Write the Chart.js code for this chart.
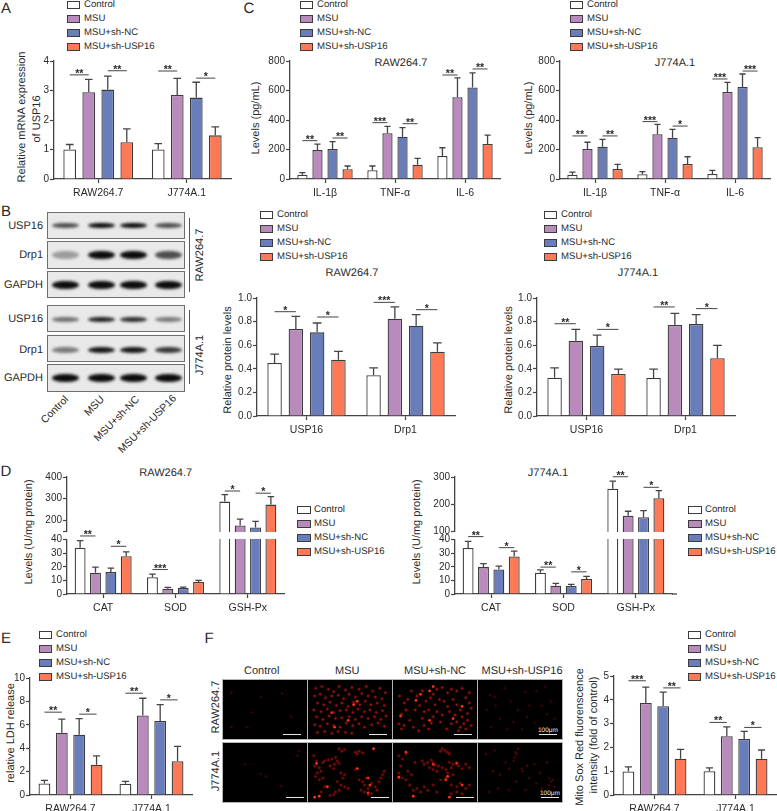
<!DOCTYPE html>
<html>
<head>
<meta charset="utf-8">
<title>USP16 figure</title>
<script src="https://cdn.jsdelivr.net/npm/chart.js@4/dist/chart.umd.min.js"></script>
<style>
  html, body { margin: 0; background: #fff; }
  #fig { position: relative; width: 777px; height: 811px; overflow: hidden; font-family: "Liberation Sans", Arial, sans-serif; color: #2a2a2a; }
  /* canvases stay above the html text, text over a canvas renders heavier */
  #fig canvas { position: absolute; z-index: 1; }
  .t { position: absolute; white-space: nowrap; line-height: 1; text-rendering: geometricPrecision; }
  .sw { position: absolute; box-sizing: border-box; border: 1.3px solid #3c3c3c; }
  .blot { position: absolute; box-sizing: border-box; border: 1.2px solid #6e6e6e; background: #e9e9e9; overflow: hidden; }
  .band { position: absolute; background: #0c0c0c; border-radius: 45% / 50%; filter: blur(1.4px); }
  .line { position: absolute; }
</style>
</head>
<body>
<div id="fig"></div>
<script>
const groups = ['Control', 'MSU', 'MSU+sh-NC', 'MSU+sh-USP16'];
const colors = ['#ffffff', '#b98bbd', '#6a7dbb', '#ff7957'];
const cells = ['RAW264.7', 'J774A.1'];
const cytokines = ['IL-1β', 'TNF-α', 'IL-6'];
const proteins = ['USP16', 'Drp1'];
const enzymes = ['CAT', 'SOD', 'GSH-Px'];

// each row is one group, each column one category
const aVals = [[1.0, 1.0], [2.94, 2.85], [3.03, 2.76], [1.25, 1.48]];
const aErrs = [[1.17, 1.2], [3.38, 3.41], [3.49, 3.28], [1.7, 1.77]];
const aSig = [[0, 0, 3.53, '**'], [0, 1, 3.67, '**'], [1, 0, 3.66, '**'], [1, 1, 3.42, '*']];
const aTicks = [0, 1, 2, 3, 4];

const c1Vals = [[29, 59, 156], [196, 310, 554], [203, 287, 621], [66, 97, 237]];
const c1Errs = [[43, 88, 212], [237, 357, 685], [253, 348, 719], [88, 140, 298]];
const c1Sig = [[0, 0, 260, '**'], [0, 1, 278, '**'], [1, 0, 382, '***'], [1, 1, 375, '**'], [2, 0, 705, '**'], [2, 1, 746, '**']];
const c2Vals = [[29, 32, 34], [203, 303, 590], [219, 280, 624], [68, 102, 215]];
const c2Errs = [[47, 50, 59], [249, 371, 655], [269, 337, 712], [99, 151, 280]];
const c2Sig = [[0, 0, 292, '**'], [0, 1, 292, '**'], [1, 0, 389, '***'], [1, 1, 359, '*'], [2, 0, 678, '***'], [2, 1, 732, '***']];
const cTicks = [0, 200, 400, 600, 800];

const p1Vals = [[0.449, 0.345], [0.737, 0.825], [0.709, 0.765], [0.477, 0.545]];
const p1Errs = [[0.525, 0.407], [0.845, 0.924], [0.788, 0.859], [0.548, 0.619]];
const p1Sig = [[0, 0, 0.884, '*'], [0, 1, 0.839, '*'], [1, 0, 0.963, '***'], [1, 1, 0.901, '*']];
const p2Vals = [[0.325, 0.322], [0.638, 0.771], [0.593, 0.78], [0.356, 0.489]];
const p2Errs = [[0.407, 0.398], [0.734, 0.87], [0.686, 0.859], [0.398, 0.599]];
const p2Sig = [[0, 0, 0.782, '**'], [0, 1, 0.734, '*'], [1, 0, 0.924, '**'], [1, 1, 0.91, '*']];
const pTicks = [0, 0.2, 0.4, 0.6, 0.8, 1];
const pLabels = ['0.0', '0.2', '0.4', '0.6', '0.8', '1.0'];

const d1Vals = [[34.1, 12.4, 286], [15.6, 3.9, 175], [16.1, 4.4, 166], [27.8, 8.8, 272]];
const d1Errs = [[39.3, 14.6, 318], [19.8, 4.9, 205], [19, 5.1, 194], [31, 10, 309]];
const d1Sig = [[0, 0, 88, '**'], [0, 1, 35.1, '*'], [1, 0, 18, '***'], [2, 0, 335, '*'], [2, 1, 325, '*']];
const d1Ticks = [0, 10, 20, 30, 40, 148, 200, 300, 400];
const d1Labels = ['0', '10', '20', '30', '40', '', '200', '300', '400'];
const d2Vals = [[33.9, 15.6, 257], [19.8, 6.1, 157], [18, 5.9, 152], [27.6, 11, 222]];
const d2Errs = [[38.8, 17.8, 285], [22.4, 7.8, 174], [20.5, 7.1, 176], [31.5, 12.9, 250]];
const d2Sig = [[0, 0, 62, '**'], [0, 1, 34.1, '*'], [1, 0, 19.8, '**'], [1, 1, 16.3, '*'], [2, 0, 301, '**'], [2, 1, 262, '*']];
const d2Ticks = [0, 10, 20, 30, 40, 100, 200, 300];

const eVals = [[0.99, 0.96], [5.33, 6.8], [5.16, 6.32], [2.58, 2.89]];
const eErrs = [[1.25, 1.16], [6.49, 8.27], [6.52, 7.73], [3.34, 4.16]];
const eSig = [[0, 0, 7.08, '**'], [0, 1, 6.91, '*'], [1, 0, 8.7, '**'], [1, 1, 8.13, '*']];
const eTicks = [0, 2, 4, 6, 8, 10];

const fVals = [[0.99, 1.0], [3.87, 2.47], [3.73, 2.35], [1.52, 1.52]];
const fErrs = [[1.18, 1.14], [4.53, 2.86], [4.32, 2.67], [1.92, 1.89]];
const fSig = [[0, 0, 4.8, '***'], [0, 1, 4.5, '**'], [1, 0, 3.05, '**'], [1, 1, 2.84, '*']];
const fTicks = [0, 1, 2, 3, 4, 5];

// blot band darkness per lane
const blotUspRaw = [0.7, 1, 1, 0.7];
const blotDrpRaw = [0.35, 1, 1, 0.7];
const blotGapRaw = [1, 1, 1, 1];
const blotUspJ = [0.55, 0.9, 0.85, 0.5];
const blotDrpJ = [0.5, 0.95, 0.95, 0.8];
const blotGapJ = [1, 1, 1, 1];

// fluorescence spots: x, y in panel pixels
const ctlRaw = [[5, 10], [61, 11], [38, 15], [71, 38], [5, 50], [22, 50], [28, 33]];
const ctlJ = [[37, 31], [43, 34], [80, 5], [78, 10], [60, 45], [20, 20]];
const msuRaw = [[4, 5], [11, 3], [18, 6], [24, 9], [30, 3], [37, 7], [44, 4], [52, 6], [60, 3], [67, 8], [75, 5], [81, 10],
  [3, 14], [9, 12], [15, 16], [22, 14], [29, 13], [35, 17], [41, 12], [48, 15], [55, 11], [62, 14], [70, 15], [77, 17],
  [6, 22], [13, 24], [20, 21], [27, 25], [33, 22], [40, 26], [46, 21], [53, 24], [59, 20], [65, 24], [72, 22], [80, 25],
  [2, 30], [10, 32], [17, 29], [24, 33], [31, 31], [38, 30], [45, 33], [51, 29], [58, 32], [64, 30], [71, 33], [78, 31],
  [5, 38], [12, 41], [19, 37], [26, 40], [33, 39], [41, 38], [48, 41], [55, 38], [62, 40], [69, 38], [76, 41], [82, 37],
  [3, 47], [9, 49], [17, 46], [24, 48], [31, 50], [38, 45], [45, 48], [52, 46], [58, 50], [66, 47], [73, 45], [80, 49],
  [6, 56], [14, 55], [22, 57], [29, 55], [37, 56], [44, 57]];
const msuRawHot = [[50, 20], [46, 24], [40, 42], [22, 33], [25, 50]];
const msuJ = [[30, 2], [33, 5], [36, 3], [48, 6], [52, 5], [56, 7], [50, 8], [2, 10], [5, 16], [3, 22], [8, 24], [12, 18], [14, 16],
  [18, 15], [22, 14], [26, 12], [28, 16], [30, 19], [25, 20], [20, 22], [24, 25], [10, 28], [6, 30], [4, 34], [12, 36], [8, 38],
  [32, 30], [36, 32], [34, 36], [28, 40], [32, 44], [36, 46], [30, 50], [26, 52], [40, 48], [20, 56], [24, 55], [52, 38], [56, 40],
  [60, 36], [58, 44], [62, 48], [66, 42], [70, 46], [74, 40], [78, 32], [80, 28], [76, 36], [72, 50], [66, 54], [58, 52], [54, 50],
  [62, 55], [48, 26], [14, 46], [10, 52]];
const msuJHot = [[68, 2], [5, 19], [50, 25], [17, 46], [62, 36], [64, 44], [62, 53], [3, 58], [8, 57]];
const ncRaw = [[3, 14], [8, 22], [5, 35], [10, 30], [16, 8], [22, 14], [25, 25], [20, 30], [28, 40], [14, 42], [8, 48], [5, 52], [18, 50],
  [24, 54], [30, 48], [35, 52], [32, 20], [37, 16], [40, 12], [44, 6], [50, 4], [56, 10], [60, 6], [66, 8], [72, 5], [42, 24], [47, 18],
  [52, 20], [56, 26], [62, 18], [58, 32], [66, 24], [70, 30], [76, 16], [80, 22], [64, 36], [72, 38], [78, 34], [82, 28], [66, 44],
  [70, 50], [74, 46], [78, 42], [82, 48], [60, 46], [55, 52], [48, 44], [40, 38], [44, 32], [35, 30], [30, 32], [50, 36], [76, 52],
  [68, 54], [12, 18], [2, 46], [38, 45], [28, 8], [80, 10]];
const ncRawHot = [[26, 12], [36, 8], [21, 19], [4, 37], [36, 42], [72, 26], [40, 3], [62, 40]];
const ncJ = [[50, 2], [53, 4], [56, 6], [48, 5], [58, 8], [2, 10], [6, 14], [4, 22], [10, 8], [20, 18], [28, 16], [30, 20], [34, 18], [38, 15],
  [40, 18], [42, 21], [36, 24], [40, 26], [46, 22], [50, 24], [44, 28], [54, 26], [58, 18], [62, 20], [66, 18], [60, 24], [56, 30], [62, 32],
  [68, 22], [72, 25], [76, 20], [80, 24], [54, 36], [48, 38], [6, 36], [10, 38], [2, 30], [14, 44], [18, 50], [22, 48], [26, 52], [30, 46],
  [34, 50], [40, 44], [44, 52], [60, 44], [66, 46], [70, 42], [76, 48], [80, 44], [72, 54], [66, 52], [60, 54], [12, 28], [16, 32]];
const ncJHot = [[10, 6], [66, 19], [40, 20], [2, 35], [56, 34], [54, 38], [72, 44], [18, 57], [58, 58]];
const uspRaw = [[9, 13], [14, 15], [48, 9], [60, 8], [70, 3], [25, 5], [5, 30], [32, 20], [40, 30], [52, 25], [66, 25], [76, 20], [20, 40],
  [35, 44], [50, 38], [58, 45], [72, 35], [10, 50], [28, 52], [44, 52], [80, 40], [65, 52], [15, 25]];
const uspJ = [[40, 2], [38, 8], [36, 12], [37, 6], [35, 16], [14, 4], [4, 8], [26, 18], [30, 25], [44, 25], [45, 28], [50, 22], [12, 28], [20, 32],
  [58, 20], [64, 30], [72, 18], [74, 36], [76, 40], [74, 44], [78, 38], [80, 46], [60, 42], [66, 48], [30, 50], [18, 48], [8, 52], [48, 50], [52, 36], [38, 40]];

const fig = document.getElementById('fig');
Chart.defaults.font.family = '"Liberation Sans", Arial, sans-serif';
Chart.defaults.animation = false;
Chart.defaults.plugins.legend.display = false;
Chart.defaults.plugins.tooltip.enabled = false;

// y axis with a gap in it, used in panel D
const LinearBase = Chart.registry.getScale('linear');
class BrokenScale extends LinearBase {
  getPixelForValue(v) {
    const [lo, hi] = this.options.breakAt;
    const gap = this.options.gapPx;
    const part = (this.bottom - this.top - gap) / 2;
    if (v <= lo) return this.bottom - (v / lo) * part;
    if (v >= hi) return this.top + ((this.max - v) / (this.max - hi)) * part;
    return this.bottom - part - ((v - lo) / (hi - lo)) * gap;
  }
}
BrokenScale.id = 'broken';
BrokenScale.defaults = {};
Chart.register(BrokenScale);

function text(str, x, y, size, rot) {
  const d = document.createElement('div');
  d.className = 't';
  d.textContent = str;
  d.style.left = x + 'px';
  d.style.top = y + 'px';
  d.style.fontSize = size + 'px';
  d.style.transform = 'translate(-50%,-50%)';
  if (rot) {
    // vertical writing mode turned over, plain rotate smears some of the labels
    d.style.writingMode = 'vertical-rl';
    d.style.transform = 'translate(-50%,-50%) rotate(180deg)';
  }
  fig.appendChild(d);
  if (rot) {
    const r = d.getBoundingClientRect();
    d.style.left = (x - (r.left - Math.round(r.left))) + 'px';
    d.style.top = (y - (r.top - Math.round(r.top))) + 'px';
  }
  return d;
}

function legend(swX, txtX, firstY, swW) {
  groups.forEach((g, i) => {
    const y = firstY + i * 14;
    const s = document.createElement('div');
    s.className = 'sw';
    s.style.cssText = `left:${swX}px;top:${y - 4}px;width:${swW || 13}px;height:8px;background:${colors[i]}`;
    fig.appendChild(s);
    const d = text(g, txtX, y, 9.6);
    d.style.transform = 'translateY(-50%)';
  });
}

function box(cls, x, y, w, h, bg) {
  const d = document.createElement('div');
  d.className = cls;
  d.style.cssText = `left:${x}px;top:${y}px;width:${w}px;height:${h}px;` + (bg ? `background:${bg}` : '');
  fig.appendChild(d);
  return d;
}

function barPanel(o) {
  const padL = 40, padT = 16, padB = 30, ext = o.extend || 0;
  const c = document.createElement('canvas');
  c.width = o.right - o.left + padL + ext + 2;
  c.height = o.bottom - o.top + padT + padB;
  c.style.left = (o.left - padL) + 'px';
  c.style.top = (o.top - padT) + 'px';
  fig.appendChild(c);

  const marks = {
    id: 'marks',
    afterDatasetsDraw(chart) {
      const ctx = chart.ctx, y = chart.scales.y, area = chart.chartArea;
      ctx.save();
      ctx.strokeStyle = '#444';
      ctx.fillStyle = '#2a2a2a';
      ctx.lineWidth = 1.3;
      if (o.breakAt) {
        const y1 = y.getPixelForValue(o.breakAt[1]) + 0.7, y2 = y.getPixelForValue(o.breakAt[0]) - 0.7;
        ctx.fillStyle = '#fff';
        ctx.fillRect(area.left - 1, y1, area.right - area.left + 1, y2 - y1);
        ctx.fillStyle = '#2a2a2a';
      }
      if (ext) {
        ctx.beginPath();
        ctx.moveTo(area.right, area.bottom);
        ctx.lineTo(area.right + ext, area.bottom);
        ctx.stroke();
      }
      // error bars, upper side only
      o.errs.forEach((row, s) => {
        const bars = chart.getDatasetMeta(s).data;
        row.forEach((e, i) => {
          const b = bars[i], py = y.getPixelForValue(e), cap = b.width * 0.3;
          ctx.beginPath();
          ctx.moveTo(b.x, b.y);
          ctx.lineTo(b.x, py);
          ctx.moveTo(b.x - cap, py);
          ctx.lineTo(b.x + cap, py);
          ctx.stroke();
        });
      });
      // significance brackets
      ctx.lineWidth = 1;
      ctx.textAlign = 'center';
      ctx.textBaseline = 'alphabetic';
      ctx.font = 'bold 10.5px "Liberation Sans", Arial, sans-serif';
      o.sig.forEach(([cat, pair, val, label]) => {
        const x1 = chart.getDatasetMeta(pair * 2).data[cat].x;
        const x2 = chart.getDatasetMeta(pair * 2 + 1).data[cat].x;
        const py = y.getPixelForValue(val);
        ctx.beginPath();
        ctx.moveTo(x1, py);
        ctx.lineTo(x2, py);
        ctx.stroke();
        ctx.fillText(label, (x1 + x2) / 2, py + 2);
      });
      ctx.restore();
    }
  };

  const labels = o.yLabels || o.yTicks.map(String);
  const yScale = {
    type: o.breakAt ? 'broken' : 'linear',
    min: 0,
    max: o.yTicks[o.yTicks.length - 1],
    afterBuildTicks: s => { s.ticks = o.yTicks.map(v => ({ value: v })); },
    afterFit: s => { s.width = padL; },
    border: { color: '#444', width: 1.3 },
    grid: { drawOnChartArea: false, tickLength: 4, tickColor: '#444', tickWidth: 1.2 },
    ticks: {
      autoSkip: false,
      padding: 1,
      color: '#2a2a2a',
      font: { size: 10 },
      callback: v => labels[o.yTicks.indexOf(v)]
    }
  };
  if (o.breakAt) {
    yScale.breakAt = o.breakAt;
    yScale.gapPx = 8.3;
  }

  return new Chart(c, {
    type: 'bar',
    data: {
      labels: o.cats,
      datasets: groups.map((g, i) => ({
        label: g,
        data: o.vals[i],
        backgroundColor: colors[i],
        borderColor: '#3c3c3c',
        borderWidth: 1.3,
        categoryPercentage: o.catPct || 0.86,
        barPercentage: o.barPct || 0.67
      }))
    },
    options: {
      responsive: false,
      layout: { padding: { left: 0, top: padT, right: 2 + ext, bottom: 0 } },
      scales: {
        x: {
          afterFit: s => { s.height = padB; },
          border: { color: '#444', width: 1.3 },
          grid: { offset: false, drawOnChartArea: false, tickLength: 4, tickColor: '#444', tickWidth: 1.2 },
          ticks: { maxRotation: 0, padding: 4, color: '#2a2a2a', font: { size: 10.5 } }
        },
        y: yScale
      }
    },
    plugins: [marks]
  });
}

function spotPanel(x, y, dim, hot, alpha, dimR) {
  box('line', x - 1, y - 1, 86, 61, '#b4b4b4');
  box('line', x, y, 84, 59, '#000');
  const c = document.createElement('canvas');
  c.width = 84;
  c.height = 59;
  c.style.left = x + 'px';
  c.style.top = y + 'px';
  c.style.filter = 'blur(0.5px)';
  fig.appendChild(c);
  const pts = (list, r) => list.map(p => ({ x: p[0], y: p[1], r: r }));
  new Chart(c, {
    type: 'bubble',
    data: {
      datasets: [
        { data: pts(dim, dimR + 1), backgroundColor: `rgba(170,15,8,${alpha * 0.4})`, borderWidth: 0 },
        { data: pts(dim, dimR), backgroundColor: `rgba(225,30,12,${alpha})`, borderWidth: 0 },
        { data: pts(hot, 1.4), backgroundColor: '#ff3210', borderWidth: 0 }
      ]
    },
    options: {
      responsive: false,
      layout: { padding: 0 },
      scales: {
        x: { display: false, min: 0, max: 84 },
        y: { display: false, min: 0, max: 59, reverse: true }
      },
      clip: false
    }
  });
}

// panel letters
[['A', 6, 8], ['C', 249, 8], ['B', 6, 211], ['D', 6, 471], ['E', 6, 638], ['F', 209, 638]].forEach(p => text(p[0], p[1], p[2], 15));

// panel A
legend(67, 84, 5);
barPanel({ left: 54, right: 231, top: 61, bottom: 179, cats: cells, vals: aVals, errs: aErrs, sig: aSig, yTicks: aTicks });
text('Relative mRNA expression', 21, 117, 11, -90);
text('of USP16', 36, 119, 11, -90);

// panel C
legend(300, 317, 5);
barPanel({ left: 290, right: 500, top: 61, bottom: 179, cats: cytokines, vals: c1Vals, errs: c1Errs, sig: c1Sig, yTicks: cTicks, barPct: 0.68 });
text('Levels (pg/mL)', 255, 118, 11, -90);
text('RAW264.7', 401, 63, 11);
legend(570, 587, 5);
barPanel({ left: 560, right: 770, top: 61, bottom: 179, cats: cytokines, vals: c2Vals, errs: c2Errs, sig: c2Sig, yTicks: cTicks, barPct: 0.68 });
text('Levels (pg/mL)', 528, 118, 11, -90);
text('J774A.1', 675, 63, 11);

// panel B, blots
const blotTops = [211.7, 241, 271.3, 305.3, 334.7, 364.3];
const blotHeights = [27.6, 28, 27, 27, 27.6, 27.4];
const blotData = [blotUspRaw, blotDrpRaw, blotGapRaw, blotUspJ, blotDrpJ, blotGapJ];
const bandY = [225, 254.3, 284.3, 318.3, 349, 377.3];
const bandH = [5, 8, 8, 4.5, 6, 8];
const laneX = [64.5, 100, 132.5, 167.5];
const blotNames = ['USP16', 'Drp1', 'GAPDH', 'USP16', 'Drp1', 'GAPDH'];
blotData.forEach((row, i) => {
  const b = box('blot', 47, blotTops[i], 137.7, blotHeights[i]);
  row.forEach((dark, lane) => {
    const band = document.createElement('div');
    band.className = 'band';
    band.style.cssText = `left:${laneX[lane] - 47 - 13.5}px;top:${bandY[i] - blotTops[i] - bandH[i] / 2}px;width:27px;height:${bandH[i]}px;opacity:${dark}`;
    b.appendChild(band);
  });
  const d = text(blotNames[i], 43, bandY[i] + 1, 11);
  d.style.transform = 'translate(-100%,-50%)';
});
box('line', 189.3, 218, 1, 73.7, '#555');
box('line', 189.3, 310, 1, 74, '#555');
text('RAW264.7', 199.5, 255, 11, -90);
text('J774A.1', 199.5, 355, 11, -90);
[[67, 398], [103, 398], [138, 398], [175, 397]].forEach((p, i) => {
  const d = text(groups[i], p[0], p[1], 10.5);
  d.style.transform = 'translate(-100%,-50%) rotate(-45deg)';
  d.style.transformOrigin = '100% 50%';
});

// protein quantification
legend(260, 277, 215);
barPanel({ left: 257, right: 455.7, top: 298.3, bottom: 416.3, cats: proteins, vals: p1Vals, errs: p1Errs, sig: p1Sig, yTicks: pTicks, yLabels: pLabels, barPct: 0.68 });
text('Relative protein levels', 227, 360, 11, -90);
text('RAW264.7', 352, 273, 11);
legend(544, 561, 215);
barPanel({ left: 537.3, right: 736, top: 298.3, bottom: 416.3, cats: proteins, vals: p2Vals, errs: p2Errs, sig: p2Sig, yTicks: pTicks, yLabels: pLabels, barPct: 0.68 });
text('Relative protein levels', 508, 360, 11, -90);
text('J774A.1', 638, 273, 11);

// panel D
barPanel({ left: 66.7, right: 284.3, top: 476.7, bottom: 594.3, cats: enzymes, vals: d1Vals, errs: d1Errs, sig: d1Sig, yTicks: d1Ticks, yLabels: d1Labels, breakAt: [40, 148], catPct: 0.85, barPct: 0.71 });
text('Levels (U/mg protein)', 28.7, 532, 11, -90);
text('RAW264.7', 165.7, 472.5, 11);
legend(297, 314, 510, 14);
barPanel({ left: 454.7, right: 671.7, top: 476.7, bottom: 594.3, extend: 5, cats: enzymes, vals: d2Vals, errs: d2Errs, sig: d2Sig, yTicks: d2Ticks, breakAt: [40, 100], catPct: 0.85, barPct: 0.71 });
text('Levels (U/mg protein)', 416.7, 532, 11, -90);
text('J774A.1', 548, 472.5, 11);
legend(688, 705, 510, 14);

// panel E
legend(39, 56, 635);
barPanel({ left: 30, right: 192.3, top: 677.7, bottom: 795.3, cats: cells, vals: eVals, errs: eErrs, sig: eSig, yTicks: eTicks, catPct: 0.858, barPct: 0.68 });
text('relative LDH release', 10.7, 732.5, 11, -90);

// panel F, micrographs
const colX = [223, 308, 393, 478];
const rowY = [680, 743];
const scaleX = [[283.3, 369, 454, 539], [286, 371, 456.3, 541.3]];
const scaleY = [734.3, 797.3];
[[ctlRaw, [], 0.3, 0.8], [msuRaw, msuRawHot, 0.75, 1], [ncRaw, ncRawHot, 0.75, 1], [uspRaw, [], 0.25, 0.9]].forEach((p, i) => {
  spotPanel(colX[i], rowY[0], p[0], p[1], p[2], p[3]);
});
[[ctlJ, [], 0.3, 0.8], [msuJ, msuJHot, 0.45, 1.2], [ncJ, ncJHot, 0.45, 1.2], [uspJ, [], 0.3, 0.9]].forEach((p, i) => {
  spotPanel(colX[i], rowY[1], p[0], p[1], p[2], p[3]);
});
scaleX.forEach((xs, r) => xs.forEach(x => box('line', x, scaleY[r], 18, 1, '#e6e6e6')));
groups.forEach((g, i) => text(g, [261.7, 347.3, 435, 522][i], 671, 11));
text('RAW264.7', 215.7, 707, 11, -90);
text('J774A.1', 215.7, 771, 11, -90);
[[548, 730.7], [550, 793.7]].forEach(p => {
  text('100μm', p[0], p[1], 6.5).style.color = '#eee';
});

legend(688, 705, 635);
barPanel({ left: 614.3, right: 776.3, top: 676, bottom: 795.7, cats: cells, vals: fVals, errs: fErrs, sig: fSig, yTicks: fTicks, catPct: 0.858, barPct: 0.68 });
text('Mito Sox Red fluorenscence', 579.7, 736.7, 11, -90);
text('intensity (fold of control)', 593.7, 735.7, 11, -90);
</script>
</body>
</html>
